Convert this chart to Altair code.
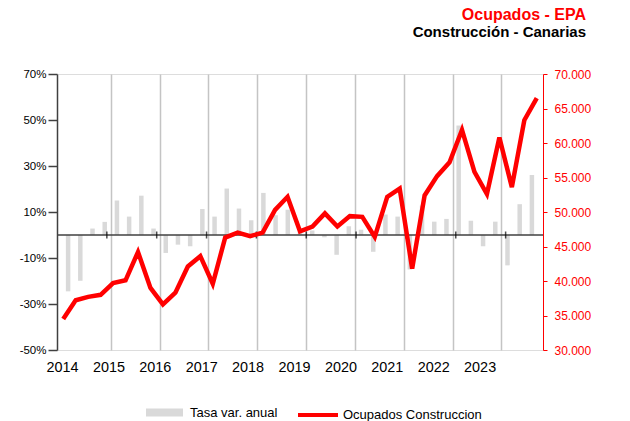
import altair as alt
import pandas as pd

# ---- data (quarterly, 2014T1 .. 2023T3) ----
years = list(range(2014, 2024))
quarters = [f"{y}T{q}" for y in years for q in range(1, 5)][:39]

ocupados = [34500, 37200, 37700, 38000, 39700, 40100, 44200, 39000,
            36600, 38300, 42100, 43600, 39600, 46300, 47000, 46500,
            47000, 50300, 52200, 47200, 47900, 49800, 47900, 49400,
            49300, 46400, 52200, 53400, 41800, 52400, 55200, 57200,
            61900, 55800, 52600, 60800, 53600, 63300, 66500]

tasa = [-24.5, -19.9, 2.8, 5.7, 15.0, 8.0, 17.1, 2.8,
        -7.8, -4.2, -4.9, 11.3, 8.0, 20.2, 11.5, 6.4,
        18.3, 8.6, 11.0, 1.5, 2.0, -1.0, -8.6, 3.8,
        2.3, -7.3, 8.9, 8.0, -15.0, 12.8, 5.8, 7.0,
        47.6, 6.2, -4.9, 5.8, -13.2, 13.4, 26.1]

left_ticks = [-50, -30, -10, 10, 30, 50, 70]
right_ticks = [30000, 35000, 40000, 45000, 50000, 55000, 60000, 65000, 70000]

serie_barras = "Tasa var. anual"
serie_linea = "Ocupados Construccion"

df = pd.DataFrame({
    "trim": quarters,
    "idx": list(range(len(quarters))),
    "tasa": tasa,
    "ocupados": ocupados,
    "s1": serie_barras,
    "s2": serie_linea,
})

FONT = "Liberation Sans"
X_DOMAIN = [-0.5, len(quarters) - 0.5]
boundaries = [(y - 2014) * 4 - 0.5 for y in years[1:]]
xscale = alt.Scale(domain=X_DOMAIN, nice=False, zero=False)
yscale_left = alt.Scale(domain=[-50, 70], nice=False)
yscale_right = alt.Scale(domain=[30000, 70000], nice=False, zero=False)

bars = alt.Chart(df).mark_bar(size=4.5).encode(
    x=alt.X("idx:Q", scale=xscale,
            axis=alt.Axis(orient="top", values=boundaries, grid=True,
                          gridColor="#c4c4c4", gridWidth=1.5, labels=False,
                          ticks=False, domain=False, title=None)),
    y=alt.Y("tasa:Q", scale=yscale_left,
            axis=alt.Axis(orient="left", values=left_ticks,
                          labelExpr="datum.value + '%'", title=None, grid=False,
                          domainColor="#404040", domainWidth=1.5,
                          tickColor="#404040", tickWidth=1.5, tickSize=9,
                          labelPadding=2, labelFontSize=11.5,
                          labelColor="#000000", labelFont=FONT)),
    fill=alt.Fill("s1:N", scale=alt.Scale(range=["#d9d9d9"]),
                  legend=alt.Legend(title=None, orient="none", legendX=89,
                                    legendY=320,
                                    symbolType="M-1,-0.22H1V0.22H-1Z",
                                    symbolSize=1369, symbolStrokeWidth=0,
                                    labelFontSize=13, labelOffset=7,
                                    labelFont=FONT, labelColor="#000000",
                                    padding=0)),
)

zero = alt.Chart(pd.DataFrame({"z": [0]})).mark_rule(
    color="#404040", strokeWidth=1.5).encode(
    y=alt.Y("z:Q", scale=yscale_left, axis=None))

ticks = alt.Chart(pd.DataFrame({"anio": years[1:]})).transform_calculate(
    pos="(datum.anio - 2014) * 4 - 0.5", cero="0"
).mark_tick(orient="vertical", size=7, thickness=1.5, color="#000000").encode(
    x=alt.X("pos:Q", scale=xscale, axis=None),
    y=alt.Y("cero:Q", scale=yscale_left, axis=None),
)

line = alt.Chart(df).mark_line(strokeWidth=4.5).encode(
    x=alt.X("idx:Q", scale=xscale, axis=None),
    y=alt.Y("ocupados:Q", scale=yscale_right,
            axis=alt.Axis(orient="right", values=right_ticks,
                          labelExpr="replace(format(datum.value, ',d'), ',', '.')",
                          domainColor="#ff0000", tickColor="#ff0000",
                          labelColor="#ff0000", tickSize=4, labelPadding=7,
                          labelFontSize=12, labelFont=FONT, title=None,
                          grid=False)),
    stroke=alt.Stroke("s2:N", scale=alt.Scale(range=["#ff0000"]),
                      legend=alt.Legend(title=None, orient="none", legendX=239,
                                        legendY=319, symbolType="stroke",
                                        symbolSize=1600, symbolStrokeWidth=4,
                                        labelFontSize=13, labelOffset=3,
                                        labelFont=FONT, labelColor="#000000",
                                        padding=0)),
)

yrs = alt.Chart(pd.DataFrame({"anio": years})).mark_point(opacity=0).encode(
    x=alt.X("anio:Q",
            scale=alt.Scale(domain=[2013.892, 2024.366], nice=False, zero=False),
            axis=alt.Axis(orient="bottom", values=years, format="d",
                          labelFontSize=14.4, labelColor="#000000",
                          labelFont=FONT, labelPadding=10, ticks=False,
                          domain=False, grid=False, title=None,
                          labelFlush=False)),
)

chart = alt.layer(bars, zero, ticks, line, yrs).resolve_scale(
    x="independent", y="independent"
).properties(
    width=486,
    height=276,
    autosize=alt.AutoSizeParams(type="none"),
    padding={"left": 49, "top": 66, "right": 79, "bottom": 75},
    title=alt.Title(
        text="Ocupados - EPA",
        subtitle="Construcción - Canarias",
        anchor="end", frame="group", color="#ff0000", font=FONT, fontSize=16,
        fontWeight="bold", subtitleColor="#000000", subtitleFont=FONT,
        subtitleFontSize=15, subtitleFontWeight="bold", subtitlePadding=2,
        offset=28, dx=43,
    ),
).configure_view(stroke=None).configure(font=FONT)

chart.save("out.html", embed_options={"renderer": "svg", "actions": False})
